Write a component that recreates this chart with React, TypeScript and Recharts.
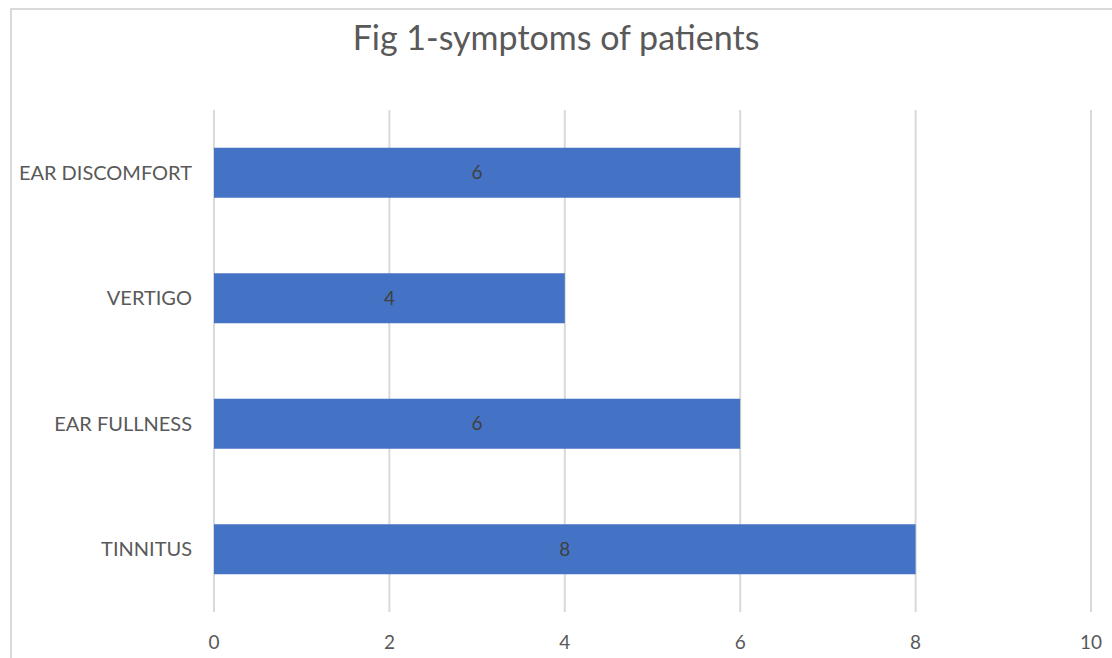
import { BarChart, Bar, XAxis, YAxis, CartesianGrid, LabelList } from "recharts";

const symptoms = ["EAR DISCOMFORT", "VERTIGO", "EAR FULLNESS", "TINNITUS"];
const patients = [6, 4, 6, 8];
const xTicks = [0, 2, 4, 6, 8, 10];

const data = symptoms.map((name, i) => ({ name, value: patients[i] }));

const FONT = "Lato, 'Open Sans', sans-serif";

export default function App() {
  return (
    <div
      style={{
        position: "absolute",
        top: 0,
        left: 0,
        width: 1112,
        height: 658,
        overflow: "hidden",
        background: "#fff",
        fontFamily: FONT,
      }}
    >
      <div
        style={{
          position: "absolute",
          left: 10,
          top: 8,
          width: 1120,
          height: 680,
          border: "2px solid #d9d9d9",
          boxSizing: "border-box",
        }}
      />
      <div
        style={{
          position: "absolute",
          top: 16,
          left: 0,
          width: 1112,
          textAlign: "center",
          fontSize: 34,
          color: "#595959",
        }}
      >
        Fig 1-symptoms of patients
      </div>
      <div style={{ position: "absolute", top: 0, left: 0 }}>
        <BarChart
          width={1112}
          height={658}
          data={data}
          layout="vertical"
          margin={{ top: 110, right: 21, bottom: 16, left: 14 }}
          barCategoryGap="30%"
        >
          <CartesianGrid horizontal={false} stroke="#d9d9d9" strokeWidth={2} />
          <XAxis
            type="number"
            domain={[0, 10]}
            ticks={xTicks}
            axisLine={false}
            tickLine={false}
            tickMargin={18}
            height={30}
            tick={{ fontSize: 19, fill: "#595959", fontFamily: FONT }}
          />
          <YAxis
            type="category"
            dataKey="name"
            width={200}
            axisLine={false}
            tickLine={false}
            tickMargin={16}
            tick={{ fontSize: 20, fill: "#595959", fontFamily: FONT }}
          />
          <Bar dataKey="value" fill="#4472C4" isAnimationActive={false}>
            <LabelList
              dataKey="value"
              position="center"
              style={{ fontSize: 19, fill: "#404040", fontFamily: FONT }}
            />
          </Bar>
        </BarChart>
      </div>
    </div>
  );
}
